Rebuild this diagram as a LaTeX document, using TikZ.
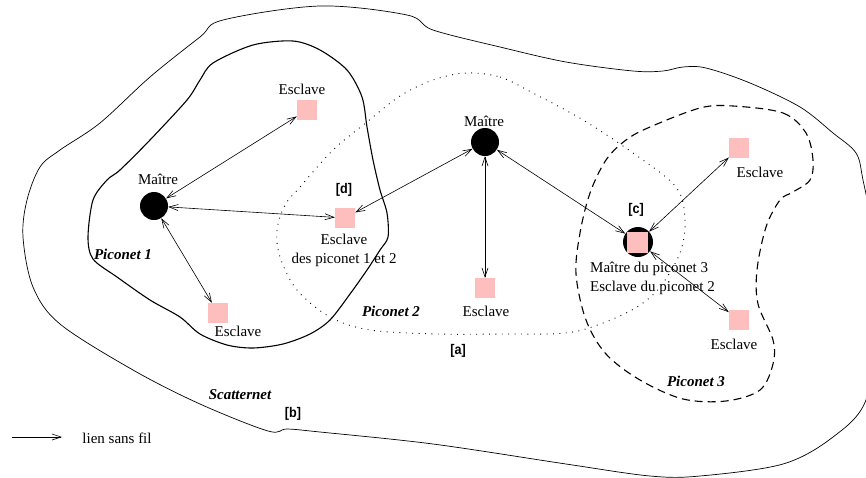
\documentclass[tikz,border=0pt]{standalone}
\usepackage{fontspec}
\setmainfont{Liberation Serif}
\newfontfamily\lsans{Liberation Sans}
\usetikzlibrary{arrows.meta}
\definecolor{pinkc}{RGB}{255,190,190}
\tikzset{
  lbl/.style={font=\fontsize{15}{19}\selectfont, inner sep=0pt, align=center},
  netlbl/.style={font=\fontsize{15}{19}\selectfont\bfseries\itshape, inner sep=0pt},
  tag/.style={font=\fontsize{14}{16}\selectfont\lsans\bfseries, inner sep=0pt, xscale=0.9},
  master/.style={circle, fill=black, minimum size=28pt, inner sep=0pt},
  slave/.style={rectangle, fill=pinkc, minimum size=20pt, inner sep=0pt},
  link/.style={line width=0.6pt, {Straight Barb[length=9pt,width=6pt]}-{Straight Barb[length=9pt,width=6pt]}},
  onelink/.style={line width=0.6pt, -{Straight Barb[length=9pt,width=6pt]}},
  scatter/.style={line width=0.7pt},
  pico1/.style={line width=1.1pt},
  pico2/.style={line width=0.9pt, dash pattern=on 0.9pt off 5.5pt},
  pico3/.style={line width=1.1pt, dash pattern=on 8pt off 5pt},
}
\begin{document}
\begin{tikzpicture}[x=1pt,y=-1pt]
\useasboundingbox (0,0) rectangle (866,477);
\clip (0,0) rectangle (866,477);
% Scatternet boundary
\draw[scatter] plot[smooth cycle, tension=0.55] coordinates {
 (223,20) (320,6) (407,15) (433,30) (500,47) (566,62) (633,71) (663,71) (683,67)
 (706,68) (750,83) (800,107) (833,133) (856,153) (863,180) (874,240) (878,320)
 (866,400) (833,437) (783,464) (700,476) (650,476) (566,464) (433,444) (320,432)
 (287,429) (268,431) (200,404) (133,370) (60,324) (33,287) (23,237) (27,200)
 (40,167) (60,150) (100,123) (150,77) (200,37)};
% Piconet 1
\draw[pico1] plot[smooth cycle, tension=0.5] coordinates {
 (293,41) (320,50) (347,70) (362,97) (367,127) (373,160) (380,190) (387,213)
 (388,237) (380,250) (367,270) (350,294) (330,320) (310,334) (283,344) (253,348)
 (227,345) (200,334) (180,317) (150,300) (117,277) (93,259) (88,237) (93,200)
 (107,180) (120,170) (150,140) (187,100) (200,80) (213,63) (253,45)};
% Piconet 2
\draw[pico2] plot[smooth cycle, tension=0.55] coordinates {
 (466,73) (500,77) (533,93) (583,120) (633,153) (676,187) (685,220) (680,253)
 (660,287) (637,307) (603,323) (566,333) (503,334) (437,334) (370,330) (330,317)
 (297,290) (280,257) (277,230) (285,205) (300,187) (333,150) (367,122) (400,96) (433,80)};
% Piconet 3
\draw[pico3] plot[smooth cycle, tension=0.55] coordinates {
 (733,106) (783,113) (806,133) (813,160) (810,180) (793,192) (780,200) (766,227)
 (757,270) (758,304) (773,340) (773,364) (760,390) (726,401) (683,399) (640,380)
 (606,354) (586,320) (576,274) (580,233) (590,193) (606,160) (626,140) (650,127) (700,108)};
% devices
\node[master] (m1) at (154,206) {};
\node[master] (m2) at (485,142) {};
\node[master, minimum size=30pt] (c) at (638,242) {};
\node[slave, minimum size=21pt] (csq) at (637,242) {};
\node[slave] (s1) at (307,110) {};
\node[slave] (d) at (345,218) {};
\node[slave] (s3) at (218,313) {};
\node[slave] (s4) at (485,288) {};
\node[slave] (s5) at (739,148) {};
\node[slave] (s6) at (739,320) {};
% links
\draw[link] (m1) -- (s1);
\draw[link] (m1) -- (d);
\draw[link] (m1) -- (s3);
\draw[link] (d) -- (m2);
\draw[link] (m2) -- (s4);
\draw[link] (m2) -- (c);
\draw[link] (c) -- (s5);
\draw[link] (c) -- (s6);
% labels
\node[lbl] (lm1) at (158,179) {Maître};
\node[lbl] (lm2) at (484,121) {Maître};
\node[lbl] (ls1) at (302,89) {Esclave};
\node[lbl] (ld) at (344,250) {Esclave\\des piconet 1 et 2};
\node[lbl] (ls3) at (238,331) {Esclave};
\node[lbl] (ls4) at (486,311) {Esclave};
\node[lbl] (ls5) at (760,172) {Esclave};
\node[lbl] (ls6) at (734,344) {Esclave};
\node[lbl, align=left, anchor=west] (lc) at (590,278) {Maître du piconet 3\\Esclave du piconet 2};
\node[netlbl] (p1) at (123,254) {Piconet 1};
\node[netlbl] (p2) at (391,311) {Piconet 2};
\node[netlbl] (p3) at (696,381) {Piconet 3};
\node[netlbl] (sc) at (240,395) {Scatternet};
\node[tag] (ta) at (458,351) {[a]};
\node[tag] (tb) at (293,414) {[b]};
\node[tag] (tc) at (636,210) {[c]};
\node[tag] (td) at (344,190) {[d]};
% legend
\coordinate (lg1) at (12,437);
\coordinate (lg2) at (62,437);
\draw[onelink] (lg1) -- (lg2);
\node[lbl] (lgt) at (117,438) {lien sans fil};
\end{tikzpicture}
\end{document}
